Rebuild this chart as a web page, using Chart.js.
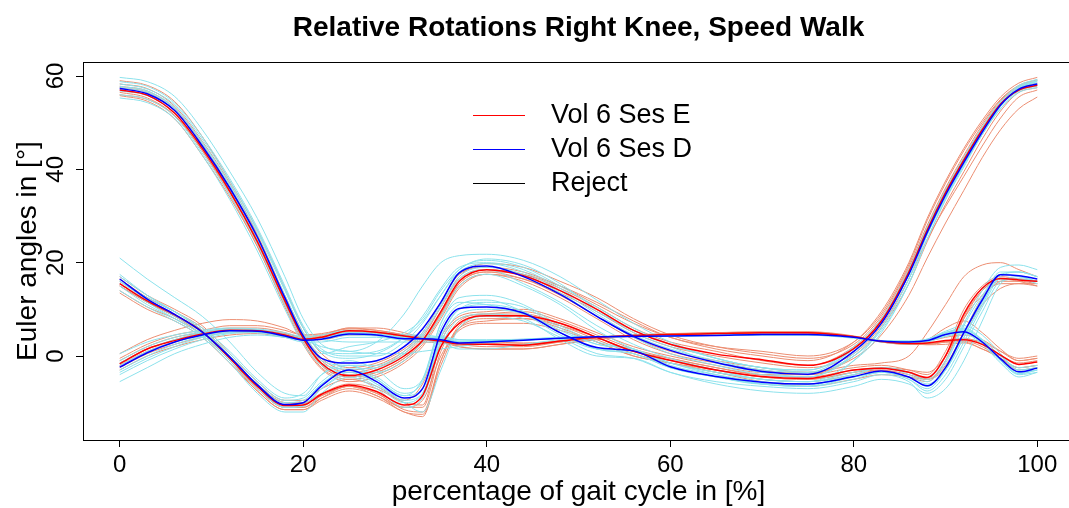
<!DOCTYPE html>
<html>
<head>
<meta charset="utf-8">
<script src="https://cdn.jsdelivr.net/npm/chart.js@4.4.1/dist/chart.umd.min.js"></script>
<style>
  html, body { margin: 0; padding: 0; background: #fff; overflow: hidden; }
  #wrap { width: 1069px; height: 508px; overflow: hidden; }
</style>
</head>
<body>
<div id="wrap"><canvas id="chart" width="1076" height="508"></canvas></div>
<script>
const gait = [0, 3, 6, 9, 12, 15, 18, 20, 22, 25, 28, 31, 33, 35, 37, 40, 44, 48, 52, 56, 60, 65, 70, 75, 80, 83, 86, 88, 90, 92, 94, 96, 98, 100];

const xTicks = [0, 20, 40, 60, 80, 100];
const yTicks = [0, 20, 40, 60];

// mean curves
const meanE_A = [57, 55.9, 52, 44.5, 35.3, 24.5, 11.8, 3.8, -1.6, -4.2, -3, 0, 3.3, 9.5, 16, 18.5, 17.2, 14, 10, 5.5, 2.5, 0.4, -0.8, -2, 1.6, 7.5, 18, 27, 35, 42, 48.5, 54, 57, 58];
const meanD_A = [57.3, 56.2, 52.6, 45, 36, 25.5, 12.5, 4.3, -0.5, -1.5, -1, 2, 5.8, 11.5, 17.8, 19.3, 17, 13.2, 8.5, 4.2, 1.2, -1.4, -3.3, -3.9, 1, 7, 17.5, 26.5, 34.5, 41.5, 48, 53.8, 57.2, 58.3];
const meanE_B = [15.5, 11.8, 8.8, 5.2, -0.5, -6.5, -10.6, -10.5, -8.2, -6.2, -7.6, -10.5, -8.5, 2, 7, 8.6, 8.6, 7, 4, 1, -0.9, -3, -4.4, -4.8, -3, -2.6, -3.5, -4.6, 0, 9, 14.5, 16.6, 16.3, 16];
const meanD_B = [16.5, 12.2, 8.9, 5.1, -0.2, -6.2, -10.4, -10, -6.4, -3, -5.5, -9, -7, 5, 10.2, 10.5, 9.2, 5, 1.8, 1.1, -2.3, -4.4, -5.6, -6, -4.4, -3.2, -4.5, -6.4, -2.5, 5, 12, 17.4, 17.2, 16.5];
const meanE_C = [-1.7, 1.5, 3.3, 4.7, 5.5, 5.4, 4.5, 3.6, 4, 5.4, 5.1, 4.3, 3.7, 3.2, 2.6, 2.5, 2.3, 3.2, 4, 4.4, 4.6, 4.8, 5, 5, 4.1, 3.1, 2.7, 2.8, 3.3, 3.5, 2.5, 0.2, -1.8, -1.3];
const meanD_C = [-2.4, 0.7, 3, 4.5, 5.4, 5.3, 4.3, 3.4, 3.6, 4.7, 4.5, 3.7, 3.7, 3.5, 2.8, 3, 3.4, 3.8, 4.1, 4.2, 4.3, 4.4, 4.6, 4.6, 4, 3.2, 3, 3.3, 4.6, 5.2, 3, -0.6, -3.4, -2.6];

// single trials, session E
const trialsE = [
  [59, 58, 54.5, 47, 37.5, 27, 14.5, 6, 0.5, -2.5, -1.5, 1.5, 5, 11.5, 17.5, 19, 18, 15, 11, 7, 4, 1.5, 0, -1, 3, 9.5, 20, 29.5, 37.5, 44.5, 50.5, 55.5, 58.5, 59.7],
  [55.8, 54.6, 50.8, 43, 34, 23.5, 10.5, 2.5, -2.8, -5.5, -4.5, -1.5, 2, 8, 14.5, 17.5, 16.5, 13, 8.5, 4, 1, -1, -2.5, -3.5, -0.5, 4.5, 13, 21, 28.5, 35.5, 42.5, 48.5, 53, 55.5],
  [57.8, 56.8, 53, 45.5, 36, 25, 12.5, 4.5, -1, -3.5, -2.5, 0.5, 4, 10.5, 17, 19.8, 19, 16, 12.5, 8, 4.5, 2, 0.5, -0.5, 2.5, 8.5, 19, 28, 36, 43, 49.5, 54.8, 57.8, 59],
  [56.5, 55.3, 51.5, 44, 34.5, 23.5, 11, 3, -2.5, -5, -4, -1, 2.5, 8.5, 15, 17.5, 16, 12.5, 8, 3.5, 0.5, -1.5, -3, -4, 0, 6, 15.5, 24.5, 32.5, 39.5, 46.5, 52.5, 56.5, 57.5],
  [58.3, 57.3, 53.5, 46, 37, 26, 13, 5, -0.5, -3, -2, 1, 4.5, 10.5, 16.5, 18.5, 17.5, 14.5, 10.5, 6, 3, 1, -1, -2, 2, 8, 18.5, 27.5, 35.5, 42.5, 49, 54.5, 57.5, 58.5],
  [56, 55, 51.5, 44, 35, 24.5, 12, 4, -2, -4.5, -3.5, -0.5, 3, 9, 15.5, 18, 17.5, 15, 11.5, 7.5, 4, 2, 1, 0, 3, 9, 19.5, 29, 37, 44, 50, 55, 58, 59.2],
  [57.5, 56.5, 52.5, 45, 35.5, 24.5, 11.5, 3.5, -2, -4.5, -3.5, -0.5, 3, 9, 15.5, 18, 16.5, 13.5, 9.5, 5, 2, 0, -1.5, -2.5, 0.5, 6.5, 16.5, 25, 32, 38.5, 45, 51, 55.5, 57],
  [14, 10.5, 8, 4.5, -1, -7.5, -11.5, -11.5, -9.5, -7.5, -9, -12, -13, -1, 6, 7.5, 8, 6, 3, 0, -1.5, -3.5, -5, -5.5, -4, -3, -4.5, -5.5, -1, 8, 14, 16, 16, 15.5],
  [17, 13, 10, 6.5, 0.5, -5.5, -9.5, -9.5, -7, -5, -6.5, -9.5, -6, 4, 8.5, 9.5, 10, 8, 5, 2, 0, -2, -3.5, -3.5, -2, -1.5, 0, 5, 11, 17, 19.5, 20, 18.5, 17],
  [13.5, 10, 7.5, 4, -1.5, -7.5, -11.5, -11.5, -9, -6.5, -8.5, -11, -9.5, 0, 5.5, 7, 7, 5.5, 3, 0, -1.5, -3, -4.5, -5, -3.5, -2.5, -3.5, -5, -2, 5, 11, 14.5, 15.5, 15.5],
  [16, 12.5, 9.5, 6, 0, -6, -10, -10, -8, -6, -7, -10, -10.5, 3, 8, 9, 9.5, 7.5, 4.5, 1.5, -0.5, -2.5, -4, -4, -2.5, -2, -3, -4, 1, 10, 15, 17, 16.5, 16],
  [15, 11.5, 8.5, 5, -0.5, -7, -11, -11, -8.5, -6.5, -8, -11.5, -12, -1, 6.5, 8.5, 8.5, 6.5, 3.5, 0.5, -1.5, -3.5, -5.5, -6.5, -5, -4, -4.5, -5, -1, 8.5, 14, 16.5, 16, 15],
  [16.5, 12.5, 9.5, 5.5, 0, -6, -10, -10.2, -8.5, -6.5, -8, -11, -11, 1, 7.5, 9, 9, 7, 4, 1, -0.5, -2.5, -4, -4.5, -3, -2.5, -3, -3.5, 0, 8, 13, 15.5, 15.5, 15],
  [15, 11.5, 8.5, 4.5, -1, -7, -11, -11, -9, -7, -8.5, -12, -12.5, -2, 6, 8, 8, 6.5, 4, 1, -1, -3, -4.5, -5, -3.5, -3, -4, -5, -2.5, 5, 12.5, 16, 16.5, 16],
  [0.5, 3.5, 5.5, 7, 7.8, 7.5, 6, 4.5, 4.5, 6, 6, 5, 4, 3.5, 2, 1.5, 1.5, 2.5, 3.5, 4.3, 4.7, 5, 5.2, 5.2, 4.3, 3, 2.5, 2.5, 3, 3.5, 3, 1, -0.5, 0],
  [-3, 0, 2, 3.5, 4.5, 4.8, 4, 3.5, 3.5, 4.5, 4.5, 3.5, 3, 2.8, 2.3, 2.5, 2.6, 3.2, 4, 4.4, 4.6, 4.8, 5, 5, 4, 3, 2.6, 2.6, 3.2, 3.8, 2.5, -0.5, -3, -2.5],
  [-1, 2, 4, 5, 5.8, 5.6, 4.8, 4, 4.5, 6, 5.5, 4.5, 3.8, 3, 2, 1.5, 1.5, 2.5, 3.8, 4.5, 4.8, 5, 5.1, 5.1, 4.2, 3.2, 2.8, 3.5, 6, 7.5, 5, 1.5, -1, -0.5],
  [-2.5, 0.5, 2.5, 4, 5, 5, 4.2, 3.5, 3.8, 5, 5, 4.2, 3.8, 3.5, 3, 2.8, 2.3, 3, 3.8, 4.3, 4.5, 4.7, 4.9, 4.9, 4.1, 3.2, 2.7, 2.4, 2.5, 2.8, 1.5, -0.5, -2.5, -2],
  [-1.5, 1.5, 3.5, 5, 6, 6, 5, 4, 4.2, 5.5, 5.2, 4.5, 4, 3.3, 2.5, 2, 2, 3, 4, 4.5, 4.7, 4.9, 5.1, 5.1, 4.2, 3.2, 2.6, 2.6, 3, 3, 1.5, 0, -1.5, -1],
  [-0.5, 2.5, 4.5, 5.5, 6.5, 6.5, 5.5, 4.5, 4.8, 5.8, 5.5, 4.5, 3.5, 3, 2.5, 2.5, 2.5, 3.2, 4, 4.4, 4.6, 4.8, 5, 5, 4.2, 3.3, 3, 3.2, 4, 4.5, 3.5, 1, -1, -0.5],
  [-2, 1, 3, 4.5, 5.3, 5.3, 4.5, 3.8, 4, 5.2, 5, 4, 3.5, 3, 2.8, 3, 2.8, 3.2, 4, 4.4, 4.6, 4.8, 5, 5, 4, 3, 2.5, 2.5, 3, 3.2, 2, -0.5, -2.5, -2]
];

// single trials, session D
const trialsD = [
  [59.7, 58.8, 55.6, 48.5, 39.5, 29.5, 17, 8, 2.5, 1, 3, 9, 15, 20, 21.5, 21.8, 20.5, 17, 12, 7, 3, -0.5, -2.5, -3.5, 0, 5.5, 15.5, 25, 33.5, 41, 47.5, 53.5, 57.5, 59],
  [56, 55, 51.3, 43.5, 34.5, 24, 11, 3.5, -1.5, -2.8, -2.5, 0.5, 4.5, 10.5, 16.5, 18.5, 15.5, 11.5, 6.5, 2.5, -0.5, -3, -5, -5.5, -1, 5, 15.5, 25, 33.5, 40.5, 47.5, 53, 56.5, 57.5],
  [58.3, 57.2, 53.8, 46.5, 37.5, 27, 14.5, 6, 1, -0.5, 0.5, 4, 8.5, 14.5, 19, 20, 18.5, 14.5, 9.5, 5.5, 2.5, -0.5, -2.5, -3, 2, 8, 18.5, 27.5, 35.5, 42.5, 49, 54.5, 58, 59.3],
  [55.3, 54.3, 50.8, 43, 33.5, 22.5, 10, 2.5, -2, -3.5, -3.5, -1, 3, 8.5, 15, 17.5, 15, 11, 5.5, 1.5, -1.5, -4, -6, -6.5, -1, 6, 16.5, 26, 34, 41, 47.5, 53, 56.8, 57.8],
  [57.8, 56.8, 53.2, 45.5, 36.5, 25.5, 13, 5, 0.5, 2, 3, 5, 8, 14, 18.5, 20.8, 19.5, 15.5, 10, 5, 2, -1.5, -3.5, -4.5, 0.5, 7, 17.5, 27, 35, 42, 48.5, 54.2, 57.5, 58.8],
  [58.8, 57.8, 54.2, 47, 38, 27.5, 15, 6.5, 1.5, 0, 0, 3, 7, 13, 18.5, 20.5, 19, 15, 10.5, 6, 2.5, -0.5, -2.5, -3, 1.5, 7.5, 18, 27.5, 35.5, 42.5, 49, 54.5, 57.8, 59],
  [56.8, 55.8, 52, 44.5, 35.5, 25, 12.5, 4.5, -1, -2, -2, 1, 5, 11, 17, 19, 17.5, 13.5, 8.5, 4, 0.5, -2, -4, -4.5, 0, 6, 16.5, 26, 34, 41, 47.5, 53.5, 57, 58],
  [57.5, 56.5, 53, 45.8, 36.8, 26.5, 14, 6, 1, 0.5, 1, 4, 7.5, 13, 18, 19.8, 18, 14, 9, 4.5, 1.5, -1, -3, -3.5, 1.5, 7.5, 18, 27, 35, 42, 48.5, 54, 57.5, 58.5],
  [21, 16.5, 12.5, 8.5, 3, -3.5, -8, -8.5, -4, -1, -3, -7, -5, 7, 12.5, 13, 11, 6.5, 3, 1.5, -1.5, -3.5, -5, -5.5, -4, -2.5, -3.5, -5, -1, 7, 14, 19, 19.5, 18.5],
  [14, 10.5, 7.5, 4, -1.5, -8, -12, -12, -8, -4.5, -7, -11, -9, 2, 8, 9, 8, 3.5, 0, -0.5, -3.5, -6, -7.5, -8, -6.5, -5, -6, -8, -5, 2, 9.5, 16, 16.5, 15.5],
  [17.5, 13, 9.5, 5.5, 0.5, -5.5, -9.5, -9, -5.5, -2, -5, -8.5, -7, 4, 10, 11.5, 10.5, 6, 2.5, 1.5, -1.5, -3.5, -5, -5.5, -3.5, -2.5, -4, -6, -3, 4, 11, 17.5, 18, 17],
  [15.5, 11.5, 8, 4.5, -1, -7, -11, -10.8, -7, -3.5, -6, -10, -12, -3, 6, 8.5, 7.5, 4, 0.5, -0.5, -3.5, -5.5, -6.5, -7, -5.5, -4, -5.5, -9, -7, -1, 7.5, 15.5, 17, 16],
  [16, 12.5, 9.5, 6, 1, -5, -9, -8, -4, -2, -4.5, -8, -5.5, 6, 11, 12, 9.5, 5.5, 2.5, 1.5, -2, -4, -5.5, -6, -4, -2.5, -3.5, -5.5, -1.5, 6.5, 13, 17.5, 17, 16],
  [16, 12, 8.5, 5, -0.5, -6.5, -10.5, -10, -6, -3, -6, -9.5, -8, 4, 10, 11, 9.5, 5, 1.5, 0.5, -2.5, -4.5, -6, -6.5, -5, -3.5, -5, -7.5, -4, 3, 10.5, 17, 18, 17],
  [17, 13, 9.5, 5.5, 0, -6, -10, -9.5, -6, -3, -5, -8.5, -5, 7, 11.5, 11, 9, 4.5, 1.5, 1, -2.5, -4.5, -6, -6.5, -4.5, -3.5, -5, -7, -3, 5, 12.5, 18, 18, 17],
  [15, 11, 8, 4.5, -0.5, -6.5, -11, -10.5, -7, -4, -6.5, -10, -8, 3, 9, 10, 9, 5, 1.5, 0.5, -2.5, -4.5, -6, -6, -4.5, -3.5, -4.5, -6.5, -3, 4, 11.5, 16.5, 16.5, 16],
  [-5.5, -2.5, 0.5, 2.5, 4, 4.5, 4, 3.5, 4, 5, 5, 4.5, 4.5, 4, 3, 3.2, 3.6, 4, 4.2, 4.3, 4.4, 4.5, 4.7, 4.6, 4, 3, 2.8, 3.5, 5, 6, 3.5, -1, -4, -3.5],
  [0.5, 3, 4.5, 5.5, 6, 5.8, 5, 4, 3.5, 3, 3, 3, 3, 3, 2.5, 3, 3.5, 4, 4.2, 4.3, 4.4, 4.5, 4.6, 4.5, 4, 3.3, 3.2, 3.6, 5, 5.5, 3.5, 0, -2.5, -2],
  [-1.5, 1.5, 3.5, 5, 5.8, 5.6, 4.5, 3.5, 2, 1, 0.5, 0.5, 1, 1.5, 2, 2.8, 3.4, 3.8, 4, 4.2, 4.3, 4.4, 4.5, 4.5, 4, 3.2, 3, 3.2, 4.2, 4.8, 2.5, -1.5, -4.5, -3.5],
  [-3.5, -0.5, 2, 4, 5, 5.2, 4.5, 4, 4.5, 5.5, 5, 4, 4, 4, 3.5, 3.3, 3.5, 3.8, 4, 4.2, 4.3, 4.4, 4.5, 4.5, 4, 3.3, 3.2, 3.6, 5.3, 6.5, 4.5, 0.5, -3, -2.5],
  [-2, 1, 3, 4.5, 5.2, 5, 4, 3, 3, 4, 4, 3.5, 3.5, 3, 1.5, 1.5, 2.5, 3.5, 4, 4.2, 4.3, 4.4, 4.6, 4.5, 3.8, 3, 2.6, 3, 4.2, 5, 2.8, -1, -3.8, -3],
  [-1, 2, 4, 5.2, 5.8, 5.6, 4.6, 3.6, 3.6, 4.5, 4.3, 3.6, 3.6, 3.5, 3, 3, 3.4, 3.8, 4.1, 4.2, 4.3, 4.4, 4.6, 4.6, 4, 3.3, 3.1, 3.4, 4.8, 5.6, 3.5, 0, -3, -2.5],
  [-3, 0, 2.5, 4.2, 5.2, 5.2, 4.2, 3.4, 3.6, 4.8, 4.6, 3.8, 3.8, 3.8, 3.2, 3.2, 3.4, 3.8, 4.1, 4.2, 4.3, 4.4, 4.6, 4.6, 4, 3.1, 2.8, 3.2, 4.5, 5.2, 2.8, -1, -3.8, -3],
  [-4, -1, 1.5, 3.5, 4.8, 5, 4.3, 3.5, 3.8, 5, 4.8, 4, 4, 4.2, 3.5, 3.5, 3.6, 3.9, 4.1, 4.2, 4.3, 4.4, 4.6, 4.6, 4, 3.2, 3, 3.4, 5, 5.8, 3.2, -0.8, -3.5, -3]
];

const legendLabels = ['Vol 6 Ses E', 'Vol 6 Ses D', 'Reject'];
const legendColors = ['#ff0000', '#0000ff', '#000000'];

const FONT = '"Liberation Sans", Arial, sans-serif';

const pts = arr => arr.map((v, i) => ({ x: gait[i], y: v }));

const datasets = [];
trialsE.forEach(t => datasets.push({ data: pts(t), borderColor: 'rgb(236,142,114)', borderWidth: 1, order: 4 }));
trialsD.forEach(t => datasets.push({ data: pts(t), borderColor: 'rgb(140,226,236)', borderWidth: 1, order: 3 }));
[meanE_A, meanE_B, meanE_C].forEach(m => datasets.push({ data: pts(m), borderColor: '#ff0000', borderWidth: 1.5, order: 2 }));
[meanD_A, meanD_B, meanD_C].forEach(m => datasets.push({ data: pts(m), borderColor: '#0000ff', borderWidth: 1.5, order: 1 }));

// box, rotated y labels, titles and legend drawn R-style
const decor = {
  id: 'decor',
  afterDraw(chart) {
    const { ctx, chartArea: a, scales } = chart;
    ctx.save();
    ctx.strokeStyle = '#000';
    ctx.lineWidth = 1;
    ctx.strokeRect(Math.round(a.left) + 0.5, Math.round(a.top) + 0.5, a.right - a.left, a.bottom - a.top);

    ctx.fillStyle = '#000';
    ctx.textAlign = 'center';
    ctx.textBaseline = 'middle';

    ctx.font = '24px ' + FONT;
    yTicks.forEach(v => {
      const y = scales.y.getPixelForValue(v);
      ctx.save();
      ctx.translate(56, y);
      ctx.rotate(-Math.PI / 2);
      ctx.fillText(String(v), 0, 0);
      ctx.restore();
    });

    ctx.font = '28px ' + FONT;
    ctx.save();
    ctx.translate(28, (a.top + a.bottom) / 2);
    ctx.rotate(-Math.PI / 2);
    ctx.fillText('Euler angles in [°]', 0, 0);
    ctx.restore();
    ctx.fillText('percentage of gait cycle in [%]', (a.left + a.right) / 2, 492);

    ctx.font = 'bold 28px ' + FONT;
    ctx.fillText('Relative Rotations Right Knee, Speed Walk', (a.left + a.right) / 2, 28);

    ctx.font = '27px ' + FONT;
    ctx.textAlign = 'left';
    legendLabels.forEach((lab, i) => {
      const y = 115 + i * 34;
      ctx.strokeStyle = legendColors[i];
      ctx.beginPath();
      ctx.moveTo(473, y + 0.5);
      ctx.lineTo(525, y + 0.5);
      ctx.stroke();
      ctx.fillText(lab, 551, y + 1);
    });
    ctx.restore();
  }
};

new Chart(document.getElementById('chart'), {
  type: 'line',
  data: { datasets },
  options: {
    responsive: false,
    animation: false,
    devicePixelRatio: 1,
    layout: { padding: { top: 62, left: 0, right: 2, bottom: 0 } },
    elements: {
      point: { radius: 0 },
      line: { cubicInterpolationMode: 'monotone', fill: false }
    },
    plugins: { legend: { display: false }, tooltip: { enabled: false } },
    scales: {
      x: {
        type: 'linear',
        min: -4,
        max: 104,
        afterBuildTicks: s => { s.ticks = xTicks.map(v => ({ value: v })); },
        afterFit: s => { s.height = 68; },
        grid: { drawOnChartArea: false, drawTicks: true, tickLength: 7, color: '#000' },
        border: { display: false },
        ticks: { color: '#000', font: { family: FONT, size: 24 }, padding: 4, maxRotation: 0 }
      },
      y: {
        min: -18,
        max: 63,
        afterBuildTicks: s => { s.ticks = yTicks.map(v => ({ value: v })); },
        afterFit: s => { s.width = 83; },
        grid: { drawOnChartArea: false, drawTicks: true, tickLength: 7, color: '#000' },
        border: { display: false },
        ticks: { display: false }
      }
    }
  },
  plugins: [decor]
});
</script>
</body>
</html>
